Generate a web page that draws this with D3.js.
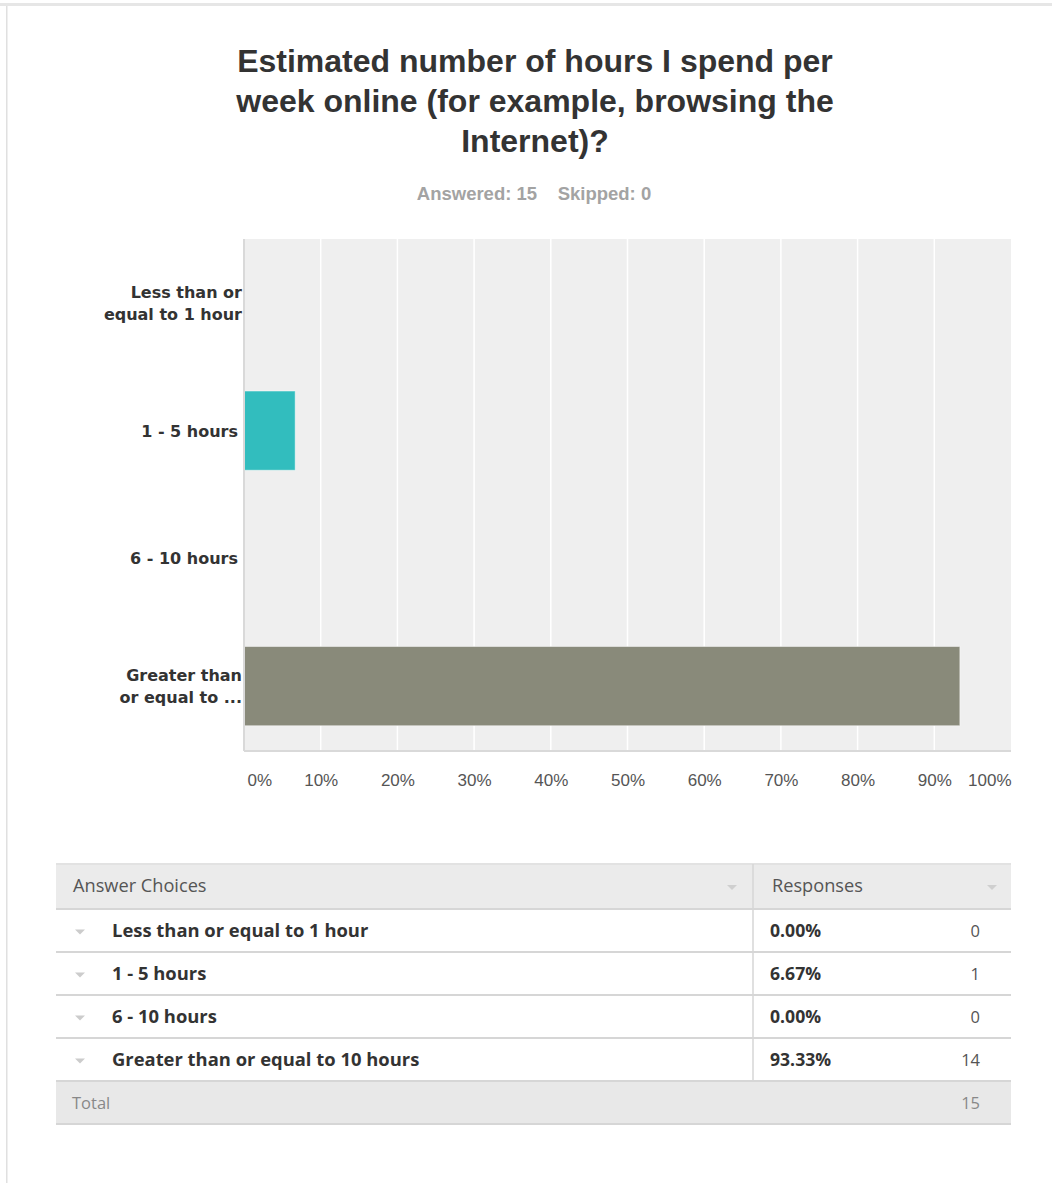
<!DOCTYPE html>
<html>
<head>
<meta charset="utf-8">
<script src="https://cdn.jsdelivr.net/npm/d3@7"></script>
<style>
  html, body { margin: 0; padding: 0; background: #ffffff; }
  svg { display: block; }
</style>
</head>
<body>
<script>
// Survey question and response data
const titleLines = [
  "Estimated number of hours I spend per",
  "week online (for example, browsing the",
  "Internet)?"
];
const answeredCount = 15;
const skippedCount = 0;

const categories = [
  "Less than or equal to 1 hour",
  "1 - 5 hours",
  "6 - 10 hours",
  "Greater than or equal to 10 hours"
];
const axisLabelLines = [
  ["Less than or", "equal to 1 hour"],
  ["1 - 5 hours"],
  ["6 - 10 hours"],
  ["Greater than", "or equal to ..."]
];
const percents = [0, 6.67, 0, 93.33];
const counts = [0, 1, 0, 14];
const barColors = ["#5bb8d6", "#32bdbe", "#c7c7c7", "#898a7a"];
const xTicks = [0, 10, 20, 30, 40, 50, 60, 70, 80, 90, 100];

const W = 1052, H = 1183;
const svg = d3.select("body").append("svg").attr("width", W).attr("height", H);

// page frame
svg.append("rect").attr("x", 0).attr("y", 3).attr("width", W).attr("height", 3).attr("fill", "#e6e6e6");
svg.append("rect").attr("x", 6).attr("y", 6).attr("width", 1.5).attr("height", H - 6).attr("fill", "#e0e0e0");

// title
const titleFont = "'Liberation Sans', Arial, sans-serif";
const labelFont = "'DejaVu Sans', Verdana, sans-serif";
const bodyFont = "'Open Sans', 'Noto Sans', sans-serif";
svg.append("text")
  .attr("x", 535).attr("y", 72)
  .attr("text-anchor", "middle")
  .attr("font-family", titleFont).attr("font-weight", "bold")
  .attr("font-size", 32).attr("fill", "#333333")
  .selectAll("tspan").data(titleLines).join("tspan")
  .attr("x", 535).attr("dy", (d, i) => i === 0 ? 0 : 40)
  .text(d => d);

svg.append("text")
  .attr("x", 534).attr("y", 200)
  .attr("text-anchor", "middle")
  .attr("font-family", titleFont).attr("font-weight", "bold")
  .attr("font-size", 18.5).attr("fill", "#a3a3a3")
  .attr("xml:space", "preserve")
  .text(`Answered: ${answeredCount}    Skipped: ${skippedCount}`);

// chart
const plot = { left: 244, right: 1011, top: 239, bottom: 750 };
const x = d3.scaleLinear().domain([0, 100]).range([plot.left, plot.right]);
const y = d3.scaleBand().domain(categories).range([plot.top, plot.bottom])
  .paddingInner(0.38).paddingOuter(0.19);

svg.append("rect")
  .attr("x", plot.left).attr("y", plot.top)
  .attr("width", plot.right - plot.left).attr("height", plot.bottom - plot.top)
  .attr("fill", "#efefef");

// vertical grid lines
svg.append("g").selectAll("line").data(xTicks.slice(1, -1)).join("line")
  .attr("x1", d => x(d)).attr("x2", d => x(d))
  .attr("y1", plot.top).attr("y2", plot.bottom)
  .attr("stroke", "#ffffff").attr("stroke-width", 1.5);

// bars
svg.append("g").selectAll("rect").data(categories).join("rect")
  .attr("x", x(0))
  .attr("y", d => y(d))
  .attr("width", (d, i) => x(percents[i]) - x(0))
  .attr("height", y.bandwidth())
  .attr("fill", (d, i) => barColors[i])
  .attr("stroke", "rgba(255,255,255,0.45)")
  .attr("stroke-width", (d, i) => percents[i] > 0 ? 1 : 0);

// axis lines
svg.append("line").attr("x1", plot.left).attr("x2", plot.left)
  .attr("y1", plot.top).attr("y2", plot.bottom + 1)
  .attr("stroke", "#d9d9d9").attr("stroke-width", 2);
svg.append("line").attr("x1", plot.left).attr("x2", plot.right)
  .attr("y1", plot.bottom + 1).attr("y2", plot.bottom + 1)
  .attr("stroke", "#d9d9d9").attr("stroke-width", 2);

// x axis
const xAxis = d3.axisBottom(x).tickValues(xTicks).tickSize(0).tickPadding(0)
  .tickFormat(d => d + "%");
const gx = svg.append("g").attr("transform", `translate(0,${plot.bottom + 36})`).call(xAxis);
gx.select(".domain").remove();
gx.selectAll("text")
  .attr("font-family", titleFont).attr("font-size", 17).attr("fill", "#555555")
  .attr("dy", 0)
  .attr("text-anchor", d => d === 0 ? "start" : d === 100 ? "end" : "middle")
  .attr("x", d => d === 0 ? 3 : 0);

// y axis with wrapped labels
const yAxis = d3.axisLeft(y).tickSize(0).tickPadding(3);
const gy = svg.append("g").attr("transform", `translate(${plot.left},0)`).call(yAxis);
gy.select(".domain").remove();
gy.selectAll("text").each(function (d) {
  const lines = axisLabelLines[categories.indexOf(d)];
  const t = d3.select(this).text(null)
    .attr("font-family", labelFont).attr("font-weight", "bold")
    .attr("font-size", 16).attr("fill", "#333333")
    .attr("dy", null).attr("y", 0);
  const lh = 22;
  lines.forEach((ln, i) => {
    t.append("tspan").attr("x", lines.length > 1 ? -2 : -6)
      .attr("y", (i - (lines.length - 1) / 2) * lh + 6)
      .text(ln);
  });
});

// table
const table = { left: 56, right: 1011, split: 753, headTop: 864, headH: 45, rowH: 43 };
const rowsTop = table.headTop + table.headH;
const totalTop = rowsTop + categories.length * table.rowH;
const tbl = svg.append("g");

tbl.append("rect").attr("x", table.left).attr("y", table.headTop)
  .attr("width", table.right - table.left).attr("height", table.headH).attr("fill", "#ebebeb");
tbl.append("rect").attr("x", table.left).attr("y", totalTop)
  .attr("width", table.right - table.left).attr("height", table.rowH).attr("fill", "#e8e8e8");

// horizontal rules
const rules = [table.headTop, rowsTop]
  .concat(categories.map((c, i) => rowsTop + (i + 1) * table.rowH))
  .concat([totalTop + table.rowH]);
tbl.selectAll("line.rule").data(rules).join("line")
  .attr("class", "rule")
  .attr("x1", table.left).attr("x2", table.right)
  .attr("y1", d => d).attr("y2", d => d)
  .attr("stroke", (d, i) => i === 0 ? "#e2e2e2" : "#d6d6d6").attr("stroke-width", 2);
tbl.append("line").attr("x1", table.split).attr("x2", table.split)
  .attr("y1", table.headTop).attr("y2", totalTop)
  .attr("stroke", "#d6d6d6").attr("stroke-width", 1.5);

// small sort/expand triangles
function tri(cx, cy, color) {
  tbl.append("path")
    .attr("d", `M${cx - 5},${cy - 2}L${cx + 5},${cy - 2}L${cx},${cy + 3}Z`)
    .attr("fill", color);
}
tri(732, table.headTop + 23, "#cfcfcf");
tri(992, table.headTop + 23, "#cfcfcf");

tbl.append("text").attr("x", 73).attr("y", table.headTop + 28)
  .attr("font-family", bodyFont).attr("font-size", 18.2).attr("fill", "#555555")
  .text("Answer Choices");
tbl.append("text").attr("x", 772).attr("y", table.headTop + 28)
  .attr("font-family", bodyFont).attr("font-size", 18.2).attr("fill", "#555555")
  .text("Responses");

const rows = tbl.selectAll("g.row").data(categories).join("g")
  .attr("class", "row")
  .attr("transform", (d, i) => `translate(0,${rowsTop + i * table.rowH})`);
categories.forEach((c, i) => {
  const cy = rowsTop + i * table.rowH + table.rowH / 2;
  tri(80, cy + 1, "#cccccc");
});
rows.append("text").attr("x", 112).attr("y", table.rowH / 2 + 6)
  .attr("font-family", bodyFont).attr("font-weight", "bold").attr("font-size", 18.4)
  .attr("fill", "#333333").text(d => d);
rows.append("text").attr("x", 770).attr("y", table.rowH / 2 + 6)
  .attr("font-family", bodyFont).attr("font-weight", "bold").attr("font-size", 17.6)
  .attr("fill", "#333333").text((d, i) => percents[i].toFixed(2) + "%");
rows.append("text").attr("x", 980).attr("y", table.rowH / 2 + 6)
  .attr("text-anchor", "end")
  .attr("font-family", bodyFont).attr("font-size", 16.5)
  .attr("fill", "#555555").text((d, i) => counts[i]);

tbl.append("text").attr("x", 72).attr("y", totalTop + table.rowH / 2 + 6)
  .attr("font-family", bodyFont).attr("font-size", 16.5).attr("fill", "#888888")
  .text("Total");
tbl.append("text").attr("x", 980).attr("y", totalTop + table.rowH / 2 + 6)
  .attr("text-anchor", "end")
  .attr("font-family", bodyFont).attr("font-size", 16.5).attr("fill", "#888888")
  .text(d3.sum(counts));
</script>
</body>
</html>
